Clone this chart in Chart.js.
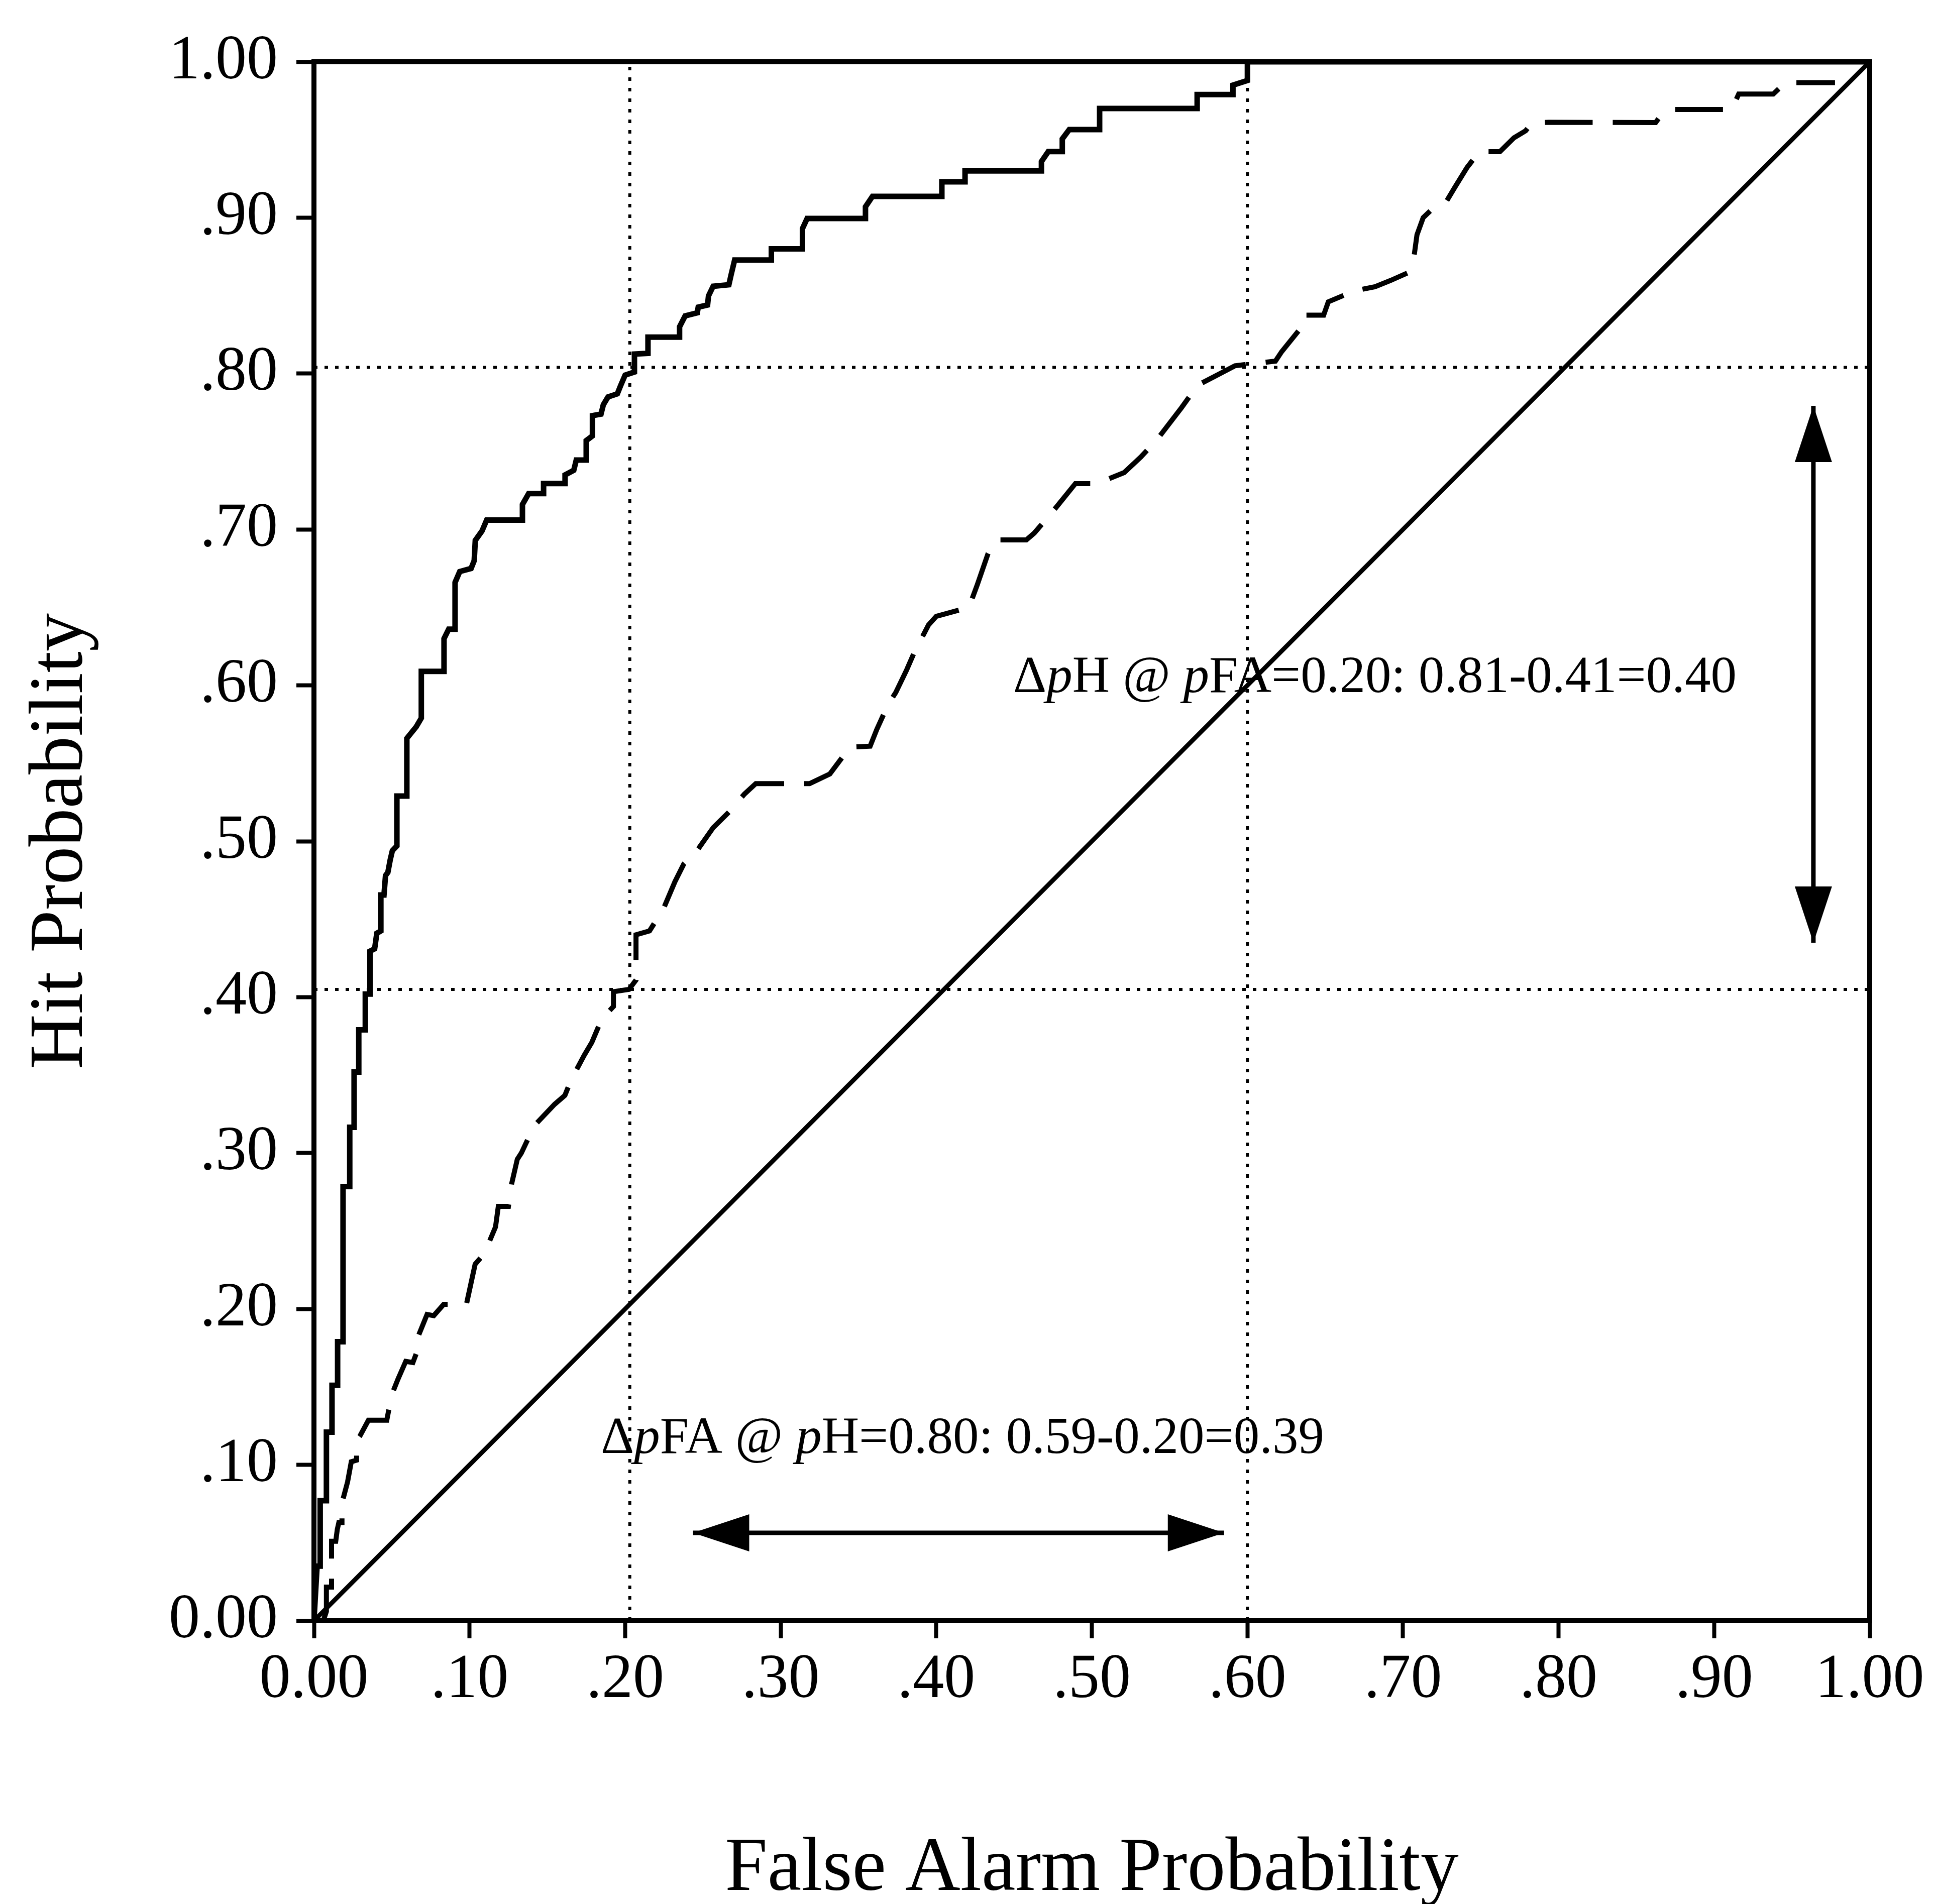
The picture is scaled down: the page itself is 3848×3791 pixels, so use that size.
<!DOCTYPE html>
<html>
<head>
<meta charset="utf-8">
<script src="https://cdn.jsdelivr.net/npm/chart.js@4.4.1/dist/chart.umd.min.js"></script>
<style>
  html, body { margin: 0; padding: 0; background: #fff; }
  #wrap { width: 3848px; height: 3791px; position: relative; }
</style>
</head>
<body>
<div id="wrap"><canvas id="roc"></canvas></div>
<script>
// axis ticks
const xTickLabels = ['0.00', '.10', '.20', '.30', '.40', '.50', '.60', '.70', '.80', '.90', '1.00'];
const yTickLabels = ['0.00', '.10', '.20', '.30', '.40', '.50', '.60', '.70', '.80', '.90', '1.00'];

// solid ROC curve (false alarm p, hit p)
const solidFA = [0, 0.002, 0.004, 0.004, 0.008, 0.008, 0.0116, 0.0116, 0.0152, 0.0152, 0.0187, 0.0187,
  0.023, 0.023, 0.0258, 0.0258, 0.0288, 0.0288, 0.033, 0.033, 0.036, 0.036, 0.039, 0.0404, 0.043, 0.043,
  0.045, 0.046, 0.0475, 0.049, 0.0504, 0.0533, 0.0533, 0.0597, 0.0597, 0.0657, 0.069, 0.069, 0.0836, 0.0836,
  0.0866, 0.0907, 0.0907, 0.0937, 0.101, 0.103, 0.1037, 0.108, 0.111, 0.134, 0.134, 0.138, 0.1476, 0.1476,
  0.1614, 0.1614, 0.167, 0.1686, 0.175, 0.175, 0.179, 0.179, 0.1845, 0.186, 0.189, 0.195, 0.197, 0.200,
  0.206, 0.206, 0.2147, 0.2147, 0.235, 0.235, 0.2386, 0.2464, 0.247, 0.253, 0.2536, 0.2566, 0.2667, 0.268,
  0.2704, 0.294, 0.294, 0.314, 0.314, 0.317, 0.3545, 0.3545, 0.359, 0.4036, 0.4036, 0.4185, 0.4185, 0.4676,
  0.4676, 0.472, 0.481, 0.481, 0.4855, 0.505, 0.505, 0.5677, 0.5677, 0.5907, 0.5907, 0.600, 0.600, 1.0];
const solidH = [0, 0.035, 0.035, 0.077, 0.077, 0.121, 0.121, 0.151, 0.151, 0.179, 0.179, 0.2785,
  0.2785, 0.3165, 0.3165, 0.352, 0.352, 0.379, 0.379, 0.402, 0.402, 0.4295, 0.431, 0.441, 0.4425, 0.4655,
  0.4655, 0.478, 0.480, 0.488, 0.494, 0.497, 0.529, 0.529, 0.566, 0.5734, 0.579, 0.609, 0.609, 0.630,
  0.636, 0.636, 0.666, 0.673, 0.675, 0.680, 0.693, 0.699, 0.706, 0.706, 0.716, 0.723, 0.723, 0.7295,
  0.7295, 0.735, 0.738, 0.7445, 0.7445, 0.757, 0.760, 0.773, 0.774, 0.780, 0.785, 0.787, 0.792, 0.799,
  0.801, 0.8125, 0.813, 0.8234, 0.8234, 0.830, 0.837, 0.839, 0.8426, 0.844, 0.8498, 0.856, 0.857, 0.8628,
  0.8728, 0.8728, 0.880, 0.880, 0.893, 0.8995, 0.8995, 0.907, 0.9137, 0.9137, 0.923, 0.923, 0.930, 0.930,
  0.936, 0.9424, 0.9424, 0.9505, 0.9565, 0.9565, 0.970, 0.970, 0.979, 0.979, 0.985, 0.988, 1.0, 1.0];

// dashed ROC curve
const dashedFA = [0.006, 0.008, 0.008, 0.0113, 0.0113, 0.014, 0.015, 0.016, 0.018, 0.018, 0.0216, 0.024,
  0.0274, 0.0274, 0.0296, 0.035, 0.0468, 0.050, 0.054, 0.059, 0.0636, 0.066, 0.0656, 0.0727, 0.077, 0.0834,
  0.098, 0.1036, 0.1095, 0.1167, 0.1185, 0.125, 0.127, 0.1307, 0.1333, 0.138, 0.1407, 0.1547, 0.1613, 0.1653,
  0.1737, 0.1786, 0.185, 0.1925, 0.1925, 0.2025, 0.207, 0.207, 0.2157, 0.2247, 0.232, 0.2378, 0.2464, 0.2566,
  0.2667, 0.2767, 0.284, 0.3186, 0.3316, 0.3445, 0.3575, 0.3618, 0.369, 0.374, 0.381, 0.386, 0.395, 0.400,
  0.421, 0.4264, 0.4333, 0.4385, 0.4579, 0.463, 0.4753, 0.4894, 0.5034, 0.5208, 0.5315, 0.5418, 0.5577, 0.568,
  0.5786, 0.592, 0.618, 0.622, 0.633, 0.6357, 0.649, 0.652, 0.6686, 0.682, 0.692, 0.703, 0.707, 0.709, 0.713,
  0.719, 0.728, 0.7333, 0.7412, 0.749, 0.7623, 0.7713, 0.7788, 0.783, 0.7937, 0.8624, 0.8666, 0.8741, 0.9113,
  0.9158, 0.938, 0.9457, 0.9777];
const dashedH = [0, 0.006, 0.0216, 0.0216, 0.051, 0.051, 0.0586, 0.063, 0.063, 0.0755, 0.089, 0.102,
  0.103, 0.1157, 0.1186, 0.1286, 0.1286, 0.145, 0.155, 0.1664, 0.1656, 0.172, 0.179, 0.1965, 0.1957, 0.203,
  0.203, 0.2287, 0.2355, 0.2526, 0.2658, 0.2658, 0.280, 0.296, 0.300, 0.310, 0.3166, 0.3313, 0.337, 0.347,
  0.3627, 0.371, 0.386, 0.394, 0.4035, 0.405, 0.411, 0.440, 0.4425, 0.4568, 0.474, 0.4856, 0.4942, 0.5087,
  0.5187, 0.5303, 0.537, 0.537, 0.5432, 0.5604, 0.561, 0.5718, 0.5876, 0.5955, 0.610, 0.6214, 0.6387, 0.6443,
  0.650, 0.6646, 0.6846, 0.6933, 0.6933, 0.6977, 0.712, 0.7294, 0.7294, 0.7365, 0.7465, 0.7575, 0.7782, 0.7925,
  0.798, 0.805, 0.808, 0.814, 0.8276, 0.8375, 0.8375, 0.846, 0.853, 0.8557, 0.8597, 0.8646, 0.8744, 0.889, 0.900,
  0.9057, 0.9106, 0.9194, 0.9322, 0.9423, 0.9423, 0.9512, 0.9557, 0.9608, 0.9612, 0.961, 0.9668, 0.9694, 0.9694,
  0.9793, 0.9793, 0.9866, 0.9866];

// chance diagonal
const chanceFA = [0, 1];
const chanceH = [0, 1];

// dotted reference lines
const refFA = [0.203, 0.60];
const refH = [0.804, 0.405];

const serif = "'Liberation Serif', 'Times New Roman', serif";

function pairs(xs, ys) {
  return xs.map((v, i) => ({ x: v, y: ys[i] }));
}

const refSets = [];
refFA.forEach(v => refSets.push(pairs([v, v], [0, 1])));
refH.forEach(v => refSets.push(pairs([0, 1], [v, v])));

// annotation placement (data units)
const notes = [
  { x: 0.4495, y: 0.5957, parts: [['\u0394', 0], ['p', 1], ['H @ ', 0], ['p', 1], ['FA=0.20: 0.81-0.41=0.40', 0]] },
  { x: 0.1844, y: 0.1076, parts: [['\u0394', 0], ['p', 1], ['FA @ ', 0], ['p', 1], ['H=0.80: 0.59-0.20=0.39', 0]] }
];
const arrows = [
  { x1: 0.2436, y1: 0.0564, x2: 0.585, y2: 0.0564 },
  { x1: 0.9638, y1: 0.7793, x2: 0.9638, y2: 0.4349 }
];

function arrowHead(ctx, tx, ty, fx, fy) {
  const len = 112, half = 37;
  const ang = Math.atan2(ty - fy, tx - fx);
  ctx.beginPath();
  ctx.moveTo(tx, ty);
  ctx.lineTo(tx - len * Math.cos(ang) + half * Math.sin(ang), ty - len * Math.sin(ang) - half * Math.cos(ang));
  ctx.lineTo(tx - len * Math.cos(ang) - half * Math.sin(ang), ty - len * Math.sin(ang) + half * Math.cos(ang));
  ctx.closePath();
  ctx.fill();
}

const rocDecor = {
  id: 'rocDecor',
  afterDatasetsDraw(chart) {
    const { ctx, chartArea: a, scales: { x, y } } = chart;
    ctx.save();
    ctx.strokeStyle = '#000';
    ctx.fillStyle = '#000';
    ctx.lineWidth = 10;
    ctx.strokeRect(a.left, a.top, a.right - a.left, a.bottom - a.top);

    arrows.forEach(ar => {
      const x1 = x.getPixelForValue(ar.x1), y1 = y.getPixelForValue(ar.y1);
      const x2 = x.getPixelForValue(ar.x2), y2 = y.getPixelForValue(ar.y2);
      ctx.lineWidth = 9;
      ctx.beginPath();
      ctx.moveTo(x1, y1);
      ctx.lineTo(x2, y2);
      ctx.stroke();
      arrowHead(ctx, x1, y1, x2, y2);
      arrowHead(ctx, x2, y2, x1, y1);
    });

    ctx.textAlign = 'left';
    ctx.textBaseline = 'alphabetic';
    notes.forEach(n => {
      let cx = x.getPixelForValue(n.x);
      const cy = y.getPixelForValue(n.y);
      n.parts.forEach(([txt, it]) => {
        ctx.font = (it ? 'italic ' : '') + '103px ' + serif;
        ctx.fillText(txt, cx, cy);
        cx += ctx.measureText(txt).width;
      });
    });
    ctx.restore();
  }
};

const lineBase = { showLine: true, pointRadius: 0, borderColor: '#000', fill: false, tension: 0 };

new Chart(document.getElementById('roc'), {
  type: 'scatter',
  data: {
    datasets: [
      ...refSets.map(d => Object.assign({}, lineBase, { data: d, borderWidth: 6, borderDash: [7, 14] })),
      Object.assign({}, lineBase, { data: pairs(chanceFA, chanceH), borderWidth: 9 }),
      Object.assign({}, lineBase, { data: pairs(dashedFA, dashedH), borderWidth: 10, borderDash: [95, 40] }),
      Object.assign({}, lineBase, { data: pairs(solidFA, solidH), borderWidth: 11 })
    ]
  },
  options: {
    responsive: true,
    maintainAspectRatio: false,
    devicePixelRatio: 1,
    animation: false,
    layout: { padding: { top: 123, right: 126, left: 0, bottom: 0 } },
    plugins: { legend: { display: false }, tooltip: { enabled: false } },
    scales: {
      x: {
        type: 'linear', min: 0, max: 1,
        afterFit(scale) { scale.height = 564; },
        border: { display: false },
        grid: { drawOnChartArea: false, tickLength: 35, tickWidth: 8, tickColor: '#000' },
        ticks: {
          stepSize: 0.1, autoSkip: false, maxRotation: 0, padding: 10, color: '#000',
          font: { family: serif, size: 124 },
          callback: (v, i) => xTickLabels[i]
        },
        title: {
          display: true, text: 'False Alarm Probability', color: '#000',
          font: { family: serif, size: 152, lineHeight: 0.8 },
          padding: { top: 0, bottom: 7 }
        }
      },
      y: {
        type: 'linear', min: 0, max: 1,
        afterFit(scale) { scale.width = 625; },
        border: { display: false },
        grid: { drawOnChartArea: false, tickLength: 35, tickWidth: 8, tickColor: '#000' },
        ticks: {
          stepSize: 0.1, autoSkip: false, padding: 37, color: '#000',
          font: { family: serif, size: 124 },
          callback: (v, i) => yTickLabels[i]
        },
        title: {
          display: true, text: 'Hit Probability', color: '#000',
          font: { family: serif, size: 152 },
          padding: { top: 32, bottom: 0 }
        }
      }
    }
  },
  plugins: [rocDecor]
});
</script>
</body>
</html>
